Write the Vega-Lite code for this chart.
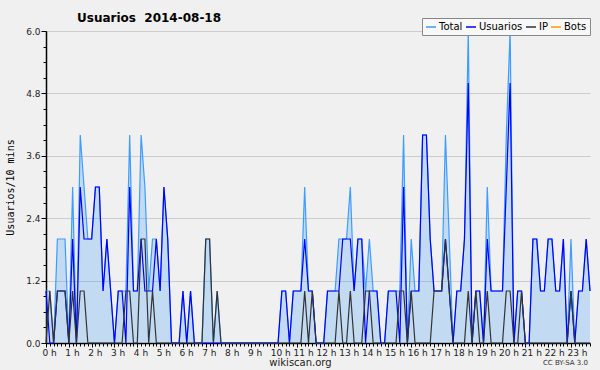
{
"$schema": "https://vega.github.io/schema/vega-lite/v6.json",
"width": 544, "height": 312,
"autosize": {"type": "none"},
"padding": {"left": 46, "top": 31, "right": 10, "bottom": 27},
"background": "#f0f0f0",
"config": {"view": {"stroke": null}, "font": "DejaVu Sans"},
"title": {"text": "Usuarios\u00a0\u00a02014-08-18", "anchor": "start", "frame": "group", "dx": 31, "offset": -7, "fontSize": 12, "fontWeight": "bold", "font": "DejaVu Sans", "color": "#000"},
"data": {"values": [
{"t":0,"Total":1,"Usuarios":1,"IP":0},{"t":10,"Total":1,"Usuarios":0,"IP":1},{"t":20,"Total":0,"Usuarios":0,"IP":0},{"t":30,"Total":2,"Usuarios":1,"IP":1},{"t":40,"Total":2,"Usuarios":1,"IP":1},{"t":50,"Total":2,"Usuarios":1,"IP":1},
{"t":60,"Total":0,"Usuarios":0,"IP":0},{"t":70,"Total":3,"Usuarios":2,"IP":1},{"t":80,"Total":0,"Usuarios":0,"IP":0},{"t":90,"Total":4,"Usuarios":3,"IP":1},{"t":100,"Total":3,"Usuarios":2,"IP":1},{"t":110,"Total":2,"Usuarios":2,"IP":0},
{"t":120,"Total":2,"Usuarios":2,"IP":0},{"t":130,"Total":3,"Usuarios":3,"IP":0},{"t":140,"Total":3,"Usuarios":3,"IP":0},{"t":150,"Total":1,"Usuarios":1,"IP":0},{"t":160,"Total":2,"Usuarios":2,"IP":0},{"t":170,"Total":1,"Usuarios":1,"IP":0},
{"t":180,"Total":0,"Usuarios":0,"IP":0},{"t":190,"Total":1,"Usuarios":1,"IP":0},{"t":200,"Total":1,"Usuarios":1,"IP":0},{"t":210,"Total":1,"Usuarios":0,"IP":1},{"t":220,"Total":4,"Usuarios":3,"IP":1},{"t":230,"Total":1,"Usuarios":1,"IP":0},
{"t":240,"Total":1,"Usuarios":1,"IP":0},{"t":250,"Total":4,"Usuarios":2,"IP":2},{"t":260,"Total":3,"Usuarios":1,"IP":2},{"t":270,"Total":1,"Usuarios":1,"IP":0},{"t":280,"Total":2,"Usuarios":1,"IP":1},{"t":290,"Total":2,"Usuarios":2,"IP":0},
{"t":300,"Total":1,"Usuarios":1,"IP":0},{"t":310,"Total":3,"Usuarios":3,"IP":0},{"t":320,"Total":2,"Usuarios":2,"IP":0},{"t":330,"Total":0,"Usuarios":0,"IP":0},{"t":340,"Total":0,"Usuarios":0,"IP":0},{"t":350,"Total":0,"Usuarios":0,"IP":0},
{"t":360,"Total":1,"Usuarios":1,"IP":0},{"t":370,"Total":0,"Usuarios":0,"IP":0},{"t":380,"Total":1,"Usuarios":1,"IP":0},{"t":390,"Total":0,"Usuarios":0,"IP":0},{"t":400,"Total":0,"Usuarios":0,"IP":0},{"t":410,"Total":0,"Usuarios":0,"IP":0},
{"t":420,"Total":2,"Usuarios":0,"IP":2},{"t":430,"Total":2,"Usuarios":0,"IP":2},{"t":440,"Total":0,"Usuarios":0,"IP":0},{"t":450,"Total":1,"Usuarios":0,"IP":1},{"t":460,"Total":0,"Usuarios":0,"IP":0},{"t":470,"Total":0,"Usuarios":0,"IP":0},
{"t":480,"Total":0,"Usuarios":0,"IP":0},{"t":490,"Total":0,"Usuarios":0,"IP":0},{"t":500,"Total":0,"Usuarios":0,"IP":0},{"t":510,"Total":0,"Usuarios":0,"IP":0},{"t":520,"Total":0,"Usuarios":0,"IP":0},{"t":530,"Total":0,"Usuarios":0,"IP":0},
{"t":540,"Total":0,"Usuarios":0,"IP":0},{"t":550,"Total":0,"Usuarios":0,"IP":0},{"t":560,"Total":0,"Usuarios":0,"IP":0},{"t":570,"Total":0,"Usuarios":0,"IP":0},{"t":580,"Total":0,"Usuarios":0,"IP":0},{"t":590,"Total":0,"Usuarios":0,"IP":0},
{"t":600,"Total":0,"Usuarios":0,"IP":0},{"t":610,"Total":0,"Usuarios":0,"IP":0},{"t":620,"Total":1,"Usuarios":1,"IP":0},{"t":630,"Total":1,"Usuarios":1,"IP":0},{"t":640,"Total":0,"Usuarios":0,"IP":0},{"t":650,"Total":1,"Usuarios":1,"IP":0},
{"t":660,"Total":1,"Usuarios":1,"IP":0},{"t":670,"Total":1,"Usuarios":1,"IP":0},{"t":680,"Total":3,"Usuarios":2,"IP":1},{"t":690,"Total":1,"Usuarios":1,"IP":0},{"t":700,"Total":1,"Usuarios":1,"IP":1},{"t":710,"Total":0,"Usuarios":0,"IP":0},
{"t":720,"Total":0,"Usuarios":0,"IP":0},{"t":730,"Total":0,"Usuarios":0,"IP":0},{"t":740,"Total":1,"Usuarios":1,"IP":0},{"t":750,"Total":1,"Usuarios":1,"IP":0},{"t":760,"Total":1,"Usuarios":1,"IP":0},{"t":770,"Total":2,"Usuarios":1,"IP":1},
{"t":780,"Total":2,"Usuarios":2,"IP":0},{"t":790,"Total":2,"Usuarios":2,"IP":0},{"t":800,"Total":3,"Usuarios":2,"IP":1},{"t":810,"Total":1,"Usuarios":1,"IP":0},{"t":820,"Total":2,"Usuarios":2,"IP":0},{"t":830,"Total":2,"Usuarios":2,"IP":0},
{"t":840,"Total":1,"Usuarios":0,"IP":1},{"t":850,"Total":2,"Usuarios":1,"IP":1},{"t":860,"Total":1,"Usuarios":1,"IP":0},{"t":870,"Total":1,"Usuarios":1,"IP":0},{"t":880,"Total":0,"Usuarios":0,"IP":0},{"t":890,"Total":0,"Usuarios":0,"IP":0},
{"t":900,"Total":1,"Usuarios":1,"IP":0},{"t":910,"Total":1,"Usuarios":1,"IP":0},{"t":920,"Total":1,"Usuarios":1,"IP":0},{"t":930,"Total":1,"Usuarios":0,"IP":1},{"t":940,"Total":4,"Usuarios":3,"IP":1},{"t":950,"Total":0,"Usuarios":0,"IP":0},
{"t":960,"Total":2,"Usuarios":1,"IP":1},{"t":970,"Total":1,"Usuarios":1,"IP":0},{"t":980,"Total":1,"Usuarios":1,"IP":0},{"t":990,"Total":4,"Usuarios":4,"IP":0},{"t":1000,"Total":4,"Usuarios":4,"IP":0},{"t":1010,"Total":2,"Usuarios":2,"IP":0},
{"t":1020,"Total":1,"Usuarios":1,"IP":1},{"t":1030,"Total":1,"Usuarios":1,"IP":1},{"t":1040,"Total":1,"Usuarios":1,"IP":1},{"t":1050,"Total":4,"Usuarios":2,"IP":2},{"t":1060,"Total":2,"Usuarios":1,"IP":1},{"t":1070,"Total":0,"Usuarios":0,"IP":0},
{"t":1080,"Total":1,"Usuarios":1,"IP":0},{"t":1090,"Total":1,"Usuarios":1,"IP":0},{"t":1100,"Total":2,"Usuarios":2,"IP":0},{"t":1110,"Total":6,"Usuarios":5,"IP":1},{"t":1120,"Total":0,"Usuarios":0,"IP":0},{"t":1130,"Total":1,"Usuarios":1,"IP":1},
{"t":1140,"Total":1,"Usuarios":1,"IP":0},{"t":1150,"Total":0,"Usuarios":0,"IP":0},{"t":1160,"Total":3,"Usuarios":2,"IP":1},{"t":1170,"Total":1,"Usuarios":1,"IP":0},{"t":1180,"Total":1,"Usuarios":1,"IP":0},{"t":1190,"Total":1,"Usuarios":1,"IP":0},
{"t":1200,"Total":1,"Usuarios":1,"IP":0},{"t":1210,"Total":4,"Usuarios":3,"IP":1},{"t":1220,"Total":6,"Usuarios":5,"IP":1},{"t":1230,"Total":0,"Usuarios":0,"IP":0},{"t":1240,"Total":1,"Usuarios":1,"IP":0},{"t":1250,"Total":1,"Usuarios":1,"IP":1},
{"t":1260,"Total":0,"Usuarios":0,"IP":0},{"t":1270,"Total":0,"Usuarios":0,"IP":0},{"t":1280,"Total":2,"Usuarios":2,"IP":0},{"t":1290,"Total":2,"Usuarios":2,"IP":0},{"t":1300,"Total":1,"Usuarios":1,"IP":0},{"t":1310,"Total":1,"Usuarios":1,"IP":0},
{"t":1320,"Total":2,"Usuarios":2,"IP":0},{"t":1330,"Total":2,"Usuarios":2,"IP":0},{"t":1340,"Total":1,"Usuarios":1,"IP":0},{"t":1350,"Total":1,"Usuarios":1,"IP":0},{"t":1360,"Total":2,"Usuarios":2,"IP":0},{"t":1370,"Total":0,"Usuarios":0,"IP":0},
{"t":1380,"Total":2,"Usuarios":1,"IP":1},{"t":1390,"Total":0,"Usuarios":0,"IP":0},{"t":1400,"Total":1,"Usuarios":1,"IP":0},{"t":1410,"Total":1,"Usuarios":1,"IP":0},{"t":1420,"Total":2,"Usuarios":2,"IP":0},{"t":1430,"Total":1,"Usuarios":1,"IP":0}
]},
"resolve": {"scale": {"x": "independent", "y": "independent"}, "axis": {"x": "independent", "y": "independent"}},
"layer": [
{
"mark": {"type": "area", "color": "#3399ff", "opacity": 0.24},
"encoding": {
"x": {"field": "t", "type": "quantitative", "scale": {"domain": [0, 1430], "nice": false, "zero": false},
"axis": {"orient": "bottom", "tickCount": 143, "labels": false, "domain": false, "grid": false, "ticks": true, "tickSize": 3, "tickColor": "#000", "title": null}},
"y": {"field": "Total", "type": "quantitative", "scale": {"domain": [0, 6], "nice": false},
"axis": {"orient": "left", "values": [0,0.3,0.6,0.9,1.2,1.5,1.8,2.1,2.4,2.7,3,3.3,3.6,3.9,4.2,4.5,4.8,5.1,5.4,5.7,6], "labels": false, "domain": false, "grid": false, "tickSize": 3, "tickColor": "#000", "title": null}}
}
},
{
"transform": [{"fold": ["Total", "Usuarios", "IP"], "as": ["serie", "v"]}],
"mark": {"type": "line", "strokeWidth": 1.2, "interpolate": "linear"},
"encoding": {
"x": {"field": "t", "type": "quantitative", "scale": {"domain": [0, 1430], "nice": false, "zero": false},
"axis": {"orient": "bottom", "values": [0,60,120,180,240,300,360,420,480,540,600,660,720,780,840,900,960,1020,1080,1140,1200,1260,1320,1380], "labelExpr": "datum.value / 60 + ' h'", "labelAlign": "left", "labelOffset": -4, "labelFontSize": 9, "labelColor": "#222", "labelPadding": 1, "tickSize": 4, "tickColor": "#000", "domainColor": "#000", "domainWidth": 1.5, "grid": false, "title": "wikiscan.org", "titleFontSize": 10, "titleFontWeight": "normal", "titleColor": "#222", "titlePadding": 0, "titleX": 254}},
"y": {"field": "v", "type": "quantitative", "scale": {"domain": [0, 6], "nice": false},
"axis": {"orient": "left", "values": [0, 1.2, 2.4, 3.6, 4.8, 6], "format": ".1f", "labelFontSize": 9, "labelColor": "#222", "labelPadding": 1, "tickSize": 5, "tickColor": "#000", "domainColor": "#000", "domainWidth": 1.5, "grid": true, "gridColor": "#cccccc", "title": "Usuarios/10 mins", "titleFont": "DejaVu Sans Mono", "titleFontSize": 10, "titleFontWeight": "normal", "titleColor": "#000", "titlePadding": 10}},
"color": {"field": "serie", "type": "nominal",
"scale": {"domain": ["Total", "Usuarios", "IP", "Bots"], "range": ["#3d9cff", "#0000ff", "#333333", "#ff9900"]},
"legend": {"orient": "none", "legendX": 376, "legendY": -13, "direction": "horizontal", "title": null, "symbolType": "stroke", "symbolSize": 100, "symbolStrokeWidth": 1.5, "labelFontSize": 10, "labelColor": "#000", "columnPadding": 0, "labelOffset": 2, "padding": 3, "fillColor": "#f8f8f8", "strokeColor": "#888888"}}
}
},
{
"data": {"values": [{"label": "CC BY-SA 3.0"}]},
"mark": {"type": "text", "align": "right", "baseline": "alphabetic", "fontSize": 7, "color": "#333", "dy": 22, "dx": -2},
"encoding": {
"x": {"datum": 1430, "type": "quantitative", "scale": {"domain": [0, 1430]}, "axis": null},
"y": {"datum": 0, "type": "quantitative", "scale": {"domain": [0, 6]}, "axis": null},
"text": {"field": "label"}
}
}
]
}
